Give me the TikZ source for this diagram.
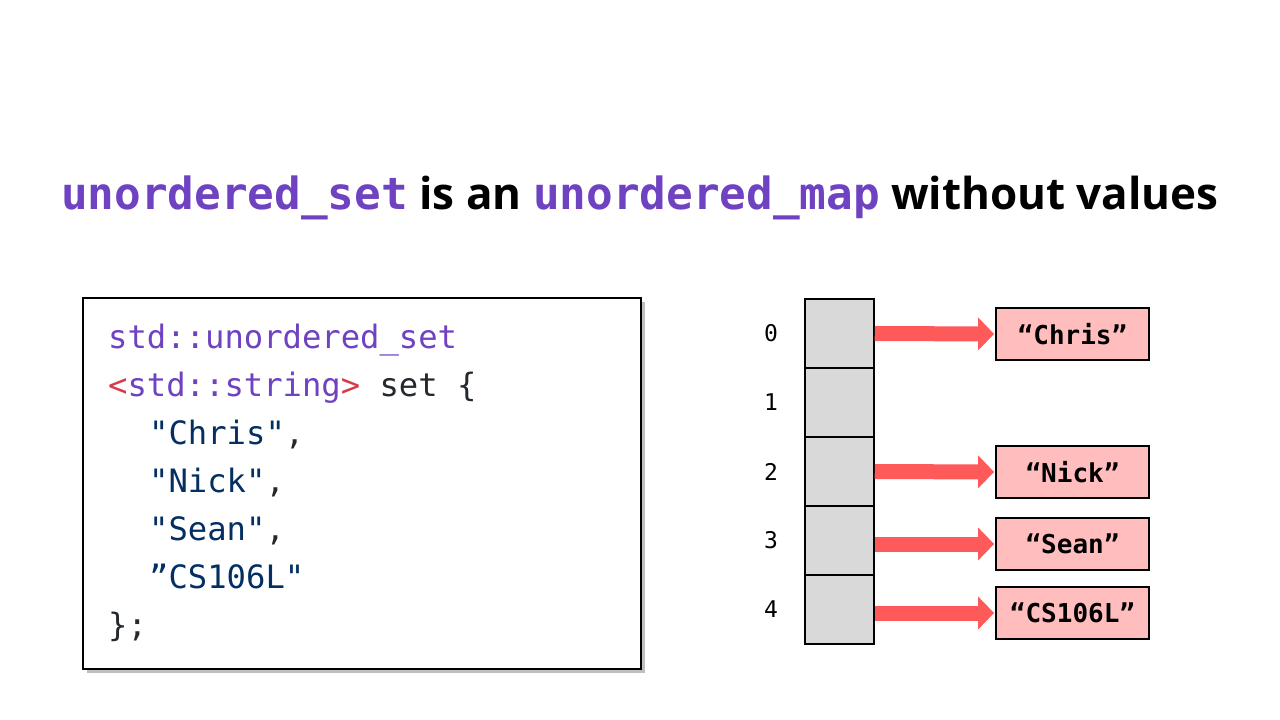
\documentclass[tikz,border=0pt]{standalone}
\usepackage{fontspec}
\setmainfont{Open Sans}
\newfontfamily\codefont{DejaVu Sans Mono}
\usetikzlibrary{arrows.meta,shadows}
\definecolor{kwpurple}{HTML}{6F42C1}
\definecolor{kwred}{HTML}{D73A49}
\definecolor{strblue}{HTML}{032F62}
\definecolor{codeblack}{HTML}{24292E}
\definecolor{cellgrey}{HTML}{D9D9D9}
\definecolor{arrowred}{HTML}{FF5A5A}
\definecolor{valpink}{HTML}{FFBDBD}
\begin{document}
\begin{tikzpicture}[x=1pt,y=-1pt,
  codeline/.style={anchor=base west,inner sep=0pt,font=\codefont\fontsize{32.2}{38}\selectfont},
  cell/.style={draw=black,line width=1.5pt,fill=cellgrey,minimum width=69pt,minimum height=69pt,inner sep=0pt},
  idx/.style={inner sep=0pt,font=\codefont\fontsize{23}{28}\selectfont},
  valbox/.style={draw=black,line width=1.8pt,fill=valpink,minimum width=153pt,minimum height=52pt,inner sep=0pt,font=\codefont\bfseries\fontsize{26}{30}\selectfont},
  ptr/.style={draw=arrowred,line width=15pt,-{Triangle[length=16pt 0 0,width=32pt 0 0]},shorten >=1pt}
]
\useasboundingbox (0,0) rectangle (1280,720);
\fill[white] (0,0) rectangle (1280,720);

% title
\node[anchor=base,inner sep=0pt] (title) at (640,209)
  {{\codefont\bfseries\fontsize{44.3}{52}\selectfont\color{kwpurple}unordered\_set}\fontsize{44}{50}\selectfont\bfseries{} is an {\codefont\bfseries\fontsize{44.3}{52}\selectfont\color{kwpurple}unordered\_map} without values};

% code box
\node[draw=black,line width=1.5pt,fill=white,minimum width=558pt,minimum height=371pt,anchor=north west,inner sep=0pt,
  drop shadow={shadow xshift=4pt,shadow yshift=-4pt,fill=black,opacity=0.25}] (codebox) at (82,297) {};

\node[codeline] (l1) at (108,348) {\color{kwpurple}std::unordered\_set};
\node[codeline] (l2) at (108,396) {\textcolor{kwred}{<}\textcolor{kwpurple}{std::string}\textcolor{kwred}{>}\textcolor{codeblack}{\ set \{}};
\node[codeline] (l3) at (149,444) {\textcolor{strblue}{"Chris"}\textcolor{codeblack}{,}};
\node[codeline] (l4) at (149,492) {\textcolor{strblue}{"Nick"}\textcolor{codeblack}{,}};
\node[codeline] (l5) at (149,540) {\textcolor{strblue}{"Sean"}\textcolor{codeblack}{,}};
\node[codeline] (l6) at (149,588) {\textcolor{strblue}{”CS106L"}};
\node[codeline] (l7) at (108,636) {\textcolor{codeblack}{\};}};

% hash table
\foreach \i/\y in {0/333.5,1/402.5,2/471.5,3/540.5,4/609.5}{
  \node[cell] (c\i) at (839.5,\y) {};
  \node[idx] (n\i) at (771,\y) {\i};
}

% values
\node[valbox] (v0) at (1072.5,334) {“Chris”};
\node[valbox] (v2) at (1072.5,472) {“Nick”};
\node[valbox] (v3) at (1072.5,544) {“Sean”};
\node[valbox] (v4) at (1072.5,613) {“CS106L”};

\draw[ptr] (c0.east) -- (v0.west);
\draw[ptr] (c2.east) -- (v2.west);
\draw[ptr] (c3.east |- v3.west) -- (v3.west);
\draw[ptr] (c4.east |- v4.west) -- (v4.west);
\end{tikzpicture}
\end{document}
